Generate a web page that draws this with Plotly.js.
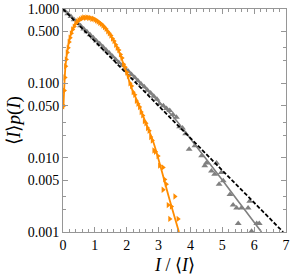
<!DOCTYPE html>
<html><head><meta charset="utf-8">
<script src="https://cdn.plot.ly/plotly-3.0.1.min.js"></script>
<style>html,body{margin:0;padding:0;background:#fff}#chart{width:291px;height:278px}</style>
</head><body><div id="chart"></div>
<script>
// Reference exponential (Rayleigh) law, dashed black
const expX = [0, 6.91];
const expY = [1, 0.001];

// Gray fitted line
const grayLineX = [0, 0.5, 1, 1.5, 2, 2.5, 3, 3.5, 4, 4.5, 5, 5.5, 6, 6.23];
const grayLineY = [1, 0.63, 0.394, 0.245, 0.153, 0.093, 0.057, 0.034, 0.018, 0.0095, 0.005, 0.0026, 0.00135, 0.001];

// Gray data (up triangles)
const grayX = [0.05,0.15,0.25,0.35,0.45,0.55,0.65,0.75,0.85,0.95,1.05,1.15,1.25,1.35,1.45,1.55,1.65,1.75,1.85,1.95,
  2.05,2.15,2.25,2.35,2.45,2.55,2.65,2.75,2.85,2.95,3.03,3.15,3.25,3.35,3.45,3.56,3.66,3.75,3.85,
  3.96,4.14,4.35,4.45,4.50,4.66,4.76,4.82,4.97,4.90,5.03,5.24,5.34,5.45,5.60,5.50,5.81,5.86,6.08,6.16,5.92];
const grayY = [0.95,0.865,0.79,0.715,0.655,0.595,0.54,0.495,0.45,0.41,0.37,0.34,0.31,0.28,0.255,0.232,0.21,0.19,0.175,0.158,
  0.145,0.131,0.12,0.108,0.098,0.09,0.081,0.074,0.067,0.061,0.053,0.05,0.046,0.043,0.038,0.035,0.026,0.025,0.021,
  0.013,0.0145,0.0106,0.0078,0.0085,0.0066,0.006,0.0085,0.0063,0.0044,0.0049,0.0032,0.0023,0.0021,0.0021,0.0013,0.0021,0.0026,0.0013,0.0013,0.00102];

// Orange fitted line
const orangeLineX = [0.01,0.03,0.08,0.15,0.22,0.3,0.4,0.5,0.6,0.75,0.9,1.05,1.2,1.35,1.5,1.67,1.8,1.93,2.05,2.19,2.3,2.41,2.52,2.62,2.72,2.82,2.93,3.1,3.3,3.5,3.64];
const orangeLineY = [0.045,0.071,0.174,0.295,0.417,0.537,0.646,0.708,0.741,0.759,0.75,0.708,0.631,0.537,0.437,0.324,0.24,0.166,0.117,0.079,0.062,0.048,0.036,0.028,0.022,0.017,0.012,0.0066,0.0032,0.0016,0.001];

// Orange data (right triangles)
const orangeX = [0.02,0.04,0.06,0.08,0.10,0.13,0.16,0.19,0.22,0.26,0.30,0.35,0.40,0.45,0.50,0.55,0.60,0.65,0.70,0.75,
  0.80,0.85,0.90,0.95,1.00,1.05,1.10,1.15,1.20,1.25,1.30,1.35,1.40,1.45,1.50,1.55,1.60,1.65,1.70,1.75,
  1.80,1.85,1.90,1.95,2.00,2.05,2.10,2.15,2.20,2.25,2.30,2.35,2.40,2.45,2.50,2.55,2.60,2.65,2.70,2.75,
  2.80,2.85,2.90,2.98,3.03,3.14,3.19,3.24,3.14,3.51,3.30,3.40,3.35,3.61];
const orangeY = [0.05,0.08,0.12,0.17,0.21,0.26,0.30,0.36,0.41,0.47,0.53,0.58,0.64,0.68,0.71,0.73,0.75,0.77,0.76,0.77,
  0.76,0.76,0.74,0.74,0.72,0.70,0.68,0.65,0.63,0.60,0.57,0.54,0.50,0.47,0.44,0.40,0.37,0.33,0.30,0.28,
  0.245,0.22,0.18,0.165,0.14,0.125,0.10,0.092,0.076,0.07,0.058,0.053,0.048,0.041,0.037,0.031,0.029,0.025,0.023,0.019,
  0.017,0.0125,0.012,0.0105,0.0078,0.0074,0.0051,0.0044,0.0037,0.003,0.0023,0.0022,0.0015,0.0015];

const yTickVals = [0.001,0.005,0.01,0.05,0.1,0.5,1];
const yTickText = ['0.001','0.005','0.010','0.050','0.100','0.500','1.000'];
const yMinorVals = [0.002,0.003,0.02,0.03,0.2,0.3];

const ORANGE = 'rgb(255,140,0)';
const GRAY = 'rgb(128,128,128)';
const FRAME = 'rgb(150,150,150)';
const FONT = 'Liberation Serif, Times New Roman, serif';

const traces = [
  {x: grayX, y: grayY, mode: 'markers', type: 'scatter',
   marker: {symbol: 'triangle-up', size: 6, color: GRAY}},
  {x: grayLineX, y: grayLineY, mode: 'lines', type: 'scatter', line: {color: GRAY, width: 1.6, shape: 'spline'}},
  {x: expX, y: expY, mode: 'lines', type: 'scatter', line: {color: '#000', width: 1.8, dash: '4px,2px'}},
  {x: orangeX, y: orangeY, mode: 'markers', type: 'scatter',
   marker: {symbol: 'triangle-right', size: 5.5, color: ORANGE}},
  {x: orangeLineX, y: orangeLineY, mode: 'lines', type: 'scatter', line: {color: ORANGE, width: 1.8, shape: 'spline'}}
];

const layout = {
  width: 291, height: 278,
  margin: {l: 63, r: 5, t: 9, b: 46},
  paper_bgcolor: '#fff', plot_bgcolor: '#fff',
  showlegend: false,
  font: {family: FONT, color: '#000', size: 14},
  xaxis: {
    range: [0, 7], dtick: 1, tick0: 0,
    showgrid: false, zeroline: false,
    showline: true, linecolor: FRAME, linewidth: 1, mirror: 'ticks',
    ticks: 'inside', ticklen: 5, tickcolor: FRAME, tickwidth: 1,
    minor: {dtick: 0.2, ticks: 'inside', ticklen: 3, tickcolor: FRAME, showgrid: false},
    tickfont: {family: FONT, size: 14, color: '#000'}
  },
  yaxis: {
    type: 'log', range: [-3, 0],
    tickmode: 'array', tickvals: yTickVals, ticktext: yTickText,
    showgrid: false, zeroline: false,
    showline: true, linecolor: FRAME, linewidth: 1, mirror: 'ticks',
    ticks: 'inside', ticklen: 5, tickcolor: FRAME, tickwidth: 1,
    minor: {tickmode: 'array', tickvals: yMinorVals, ticks: 'inside', ticklen: 3, tickcolor: FRAME, showgrid: false},
    tickfont: {family: FONT, size: 14, color: '#000'},
    title: {text: '⟨<i>I</i>⟩<i>p</i>(<i>I</i>)', font: {family: FONT, size: 19, color: '#000'}, standoff: 2}
  },
  annotations: [{
    text: '<i>I</i> / ⟨<i>I</i>⟩', xref: 'paper', yref: 'paper', x: 0.5, y: -0.148,
    xanchor: 'center', yanchor: 'middle', showarrow: false,
    font: {family: FONT, size: 18, color: '#000'}
  }]
};

Plotly.newPlot('chart', traces, layout, {displayModeBar: false, staticPlot: true});
</script>
</body></html>
